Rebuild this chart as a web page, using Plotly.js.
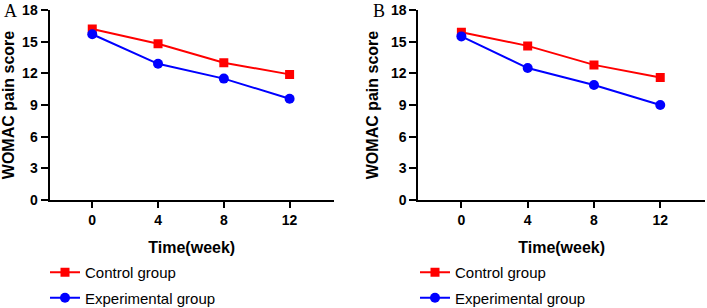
<!DOCTYPE html>
<html>
<head>
<meta charset="utf-8">
<script src="https://cdn.plot.ly/plotly-3.0.1.min.js"></script>
<style>html,body{margin:0;padding:0;background:#fff;}#chart{width:707px;height:308px;}</style>
</head>
<body>
<div id="chart"></div>
<script>
const weeks = [0, 4, 8, 12];
const controlA = [16.2, 14.8, 13.0, 11.9];
const expA = [15.7, 12.9, 11.5, 9.6];
const controlB = [15.9, 14.6, 12.8, 11.6];
const expB = [15.5, 12.5, 10.9, 9.0];
const yTicks = [0, 3, 6, 9, 12, 15, 18];
const seriesNames = ['Control group', 'Experimental group'];
const panelLabels = ['A', 'B'];

const RED = '#ff0000', BLUE = '#0000ff';
const FONT = 'Liberation Sans, Arial, sans-serif';

function trace(y, name, color, symbol, xa, ya, leg, grp) {
  return {
    x: weeks, y: y, name: name, type: 'scatter', mode: 'lines+markers',
    xaxis: xa, yaxis: ya, legend: leg, legendgroup: grp,
    line: {color: color, width: 2},
    marker: {color: color, symbol: symbol, size: symbol === 'square' ? 9 : 10}
  };
}

const data = [
  trace(controlA, seriesNames[0], RED, 'square', 'x', 'y', 'legend', 'a1'),
  trace(expA, seriesNames[1], BLUE, 'circle', 'x', 'y', 'legend', 'a2'),
  trace(controlB, seriesNames[0], RED, 'square', 'x2', 'y2', 'legend2', 'b1'),
  trace(expB, seriesNames[1], BLUE, 'circle', 'x2', 'y2', 'legend2', 'b2')
];

function xax(domain, anchor) {
  return {
    domain: domain, anchor: anchor, range: [-2.6, 14.7], automargin: false,
    tickvals: weeks, ticktext: weeks.map(String),
    showgrid: false, zeroline: false, showline: true, linecolor: '#000', linewidth: 2,
    ticks: 'outside', ticklen: 6, tickwidth: 2, tickcolor: '#000',
    tickfont: {family: FONT, size: 14, color: '#000', weight: 'bold'},
    title: {text: 'Time(week)', font: {family: FONT, size: 16, color: '#000', weight: 'bold'}, standoff: 15}
  };
}
function yax(domain, anchor) {
  return {
    domain: domain, anchor: anchor, range: [0, 18], automargin: false,
    tickvals: yTicks, ticktext: yTicks.map(String),
    showgrid: false, zeroline: false, showline: true, linecolor: '#000', linewidth: 2,
    ticks: 'outside', ticklen: 7, tickwidth: 2, tickcolor: '#000',
    tickfont: {family: FONT, size: 14, color: '#000', weight: 'bold'},
    title: {text: 'WOMAC pain score', font: {family: FONT, size: 16, color: '#000', weight: 'bold'}, standoff: 8}
  };
}

const W = 707, H = 308;
const yDom = [(H - 200) / H, (H - 10) / H];

function leg(xpx) {
  return {
    x: xpx / W, xanchor: 'left', y: -6 / H, yanchor: 'bottom',
    orientation: 'v', traceorder: 'grouped', tracegroupgap: 3,
    font: {family: FONT, size: 15, color: '#000'},
    bgcolor: 'rgba(0,0,0,0)', borderwidth: 0
  };
}

const layout = {
  width: W, height: H,
  margin: {l: 0, r: 0, t: 0, b: 0, autoexpand: false},
  paper_bgcolor: '#fff', plot_bgcolor: '#fff',
  showlegend: true,
  xaxis: xax([49.5 / W, 334 / W], 'y'),
  yaxis: yax(yDom, 'x'),
  xaxis2: xax([418.3 / W, 705 / W], 'y2'),
  yaxis2: yax(yDom, 'x2'),
  legend: leg(45),
  legend2: leg(415),
  annotations: [
    {text: panelLabels[0], xref: 'paper', yref: 'paper', x: 2 / W, y: (H - 11) / H, xanchor: 'left', yanchor: 'middle', showarrow: false,
     font: {family: 'Liberation Serif, Times New Roman, serif', size: 18, color: '#000'}},
    {text: panelLabels[1], xref: 'paper', yref: 'paper', x: 371 / W, y: (H - 11) / H, xanchor: 'left', yanchor: 'middle', showarrow: false,
     font: {family: 'Liberation Serif, Times New Roman, serif', size: 18, color: '#000'}}
  ]
};

Plotly.newPlot('chart', data, layout, {displayModeBar: false, staticPlot: true});
</script>
</body>
</html>
